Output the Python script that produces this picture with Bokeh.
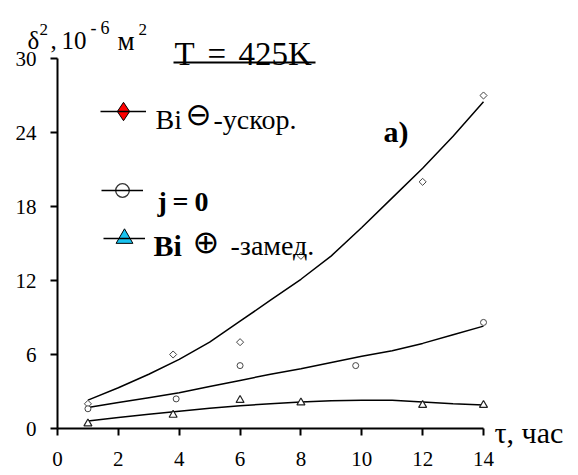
import numpy as np
from bokeh.plotting import figure
from bokeh.models import (Range1d, FixedTicker, Label, Legend, LegendItem,
                          BoxAnnotation)
from bokeh.embed import file_html
from bokeh.resources import INLINE

# ---------------- data ----------------
t_bi_minus = [1, 3.8, 6, 8, 12, 14]
d2_bi_minus = [2.0, 6.0, 7.0, 14.0, 20.0, 27.0]

t_j0 = [1, 3.9, 6, 9.8, 14]
d2_j0 = [1.6, 2.4, 5.1, 5.1, 8.6]

t_bi_plus = [1, 3.8, 6, 8, 12, 14]
d2_bi_plus = [0.4, 1.1, 2.3, 2.1, 1.9, 1.9]

t_trend = [1, 2, 3, 4, 5, 6, 7, 8, 9, 10, 11, 12, 13, 14]
trend_bi_minus = [2.3, 3.3, 4.4, 5.6, 7.0, 8.7, 10.4, 12.1, 14.0, 16.3, 18.7, 21.1, 23.7, 26.5]
trend_j0 = [1.7, 2.1, 2.5, 2.9, 3.4, 3.9, 4.4, 4.85, 5.35, 5.85, 6.3, 6.9, 7.6, 8.3]
trend_bi_plus = [0.6, 0.9, 1.15, 1.4, 1.65, 1.85, 2.0, 2.15, 2.25, 2.3, 2.3, 2.15, 2.0, 1.9]

x_ticks = [0, 2, 4, 6, 8, 10, 12, 14]
y_ticks = [0, 6, 12, 18, 24, 30]

# ---------------- geometry ----------------
W, H = 570, 470          # canvas = frame
X0, Y0 = 57, 428         # canvas px of the data origin
KX = 426 / 14.0          # px per hour
KY = 370 / 30.0          # px per 1e-6 m^2

p = figure(frame_width=W, frame_height=H,
           min_border_left=0, min_border_right=0,
           min_border_top=0, min_border_bottom=0,
           x_range=Range1d(-X0 / KX, (W - X0) / KX),
           y_range=Range1d(-(H - Y0) / KY, Y0 / KY),
           output_backend="svg", toolbar_location=None)
p.outline_line_color = None
p.xgrid.visible = False
p.ygrid.visible = False
p.background_fill_color = "white"
p.border_fill_color = "white"
p.extra_y_ranges = {"off": Range1d(1000, 1001)}   # legend-only renderers live here

for ax, ticks, bnd in ((p.xaxis[0], x_ticks, (0, 14)), (p.yaxis[0], y_ticks, (0, 30))):
    ax.fixed_location = 0
    ax.bounds = bnd
    ax.ticker = FixedTicker(ticks=ticks)
    ax.axis_line_width = 2
    ax.axis_line_color = "black"
    ax.major_tick_line_width = 2
    ax.major_tick_line_color = "black"
    ax.major_tick_in = 0
    ax.major_tick_out = 7
    ax.minor_tick_line_color = None
    ax.major_label_text_font = "Liberation Serif"
    ax.major_label_text_font_size = "21px"
    ax.major_label_text_color = "black"
p.xaxis[0].major_label_standoff = 16
p.yaxis[0].major_label_standoff = 14

# trend lines
r_tr_minus = p.line(t_trend, trend_bi_minus, line_color="black", line_width=1.5)
r_tr_j0 = p.line(t_trend, trend_j0, line_color="black", line_width=1.5)
r_tr_plus = p.line(t_trend, trend_bi_plus, line_color="black", line_width=1.5)

# data markers
p.scatter(t_bi_minus, d2_bi_minus, marker="square", angle=np.pi / 4, size=5,
          fill_color="white", line_color="#444444", line_width=1)
p.scatter(t_j0, d2_j0, marker="circle", size=6,
          fill_color="white", line_color="#444444", line_width=1)
p.scatter(t_bi_plus, d2_bi_plus, marker="triangle", size=8,
          fill_color="white", line_color="#222222", line_width=1.2)

# legend-only marker renderers (same data, mapped off-screen)
lg_minus = p.scatter(t_bi_minus, d2_bi_minus, y_range_name="off", marker="diamond",
                     fill_color="#ff0000", line_color="#000000", line_width=1)
lg_j0 = p.scatter(t_j0, d2_j0, y_range_name="off", marker="circle",
                  fill_color="white", line_color="#333333", line_width=1.3)
lg_plus = p.scatter(t_bi_plus, d2_bi_plus, y_range_name="off", marker="triangle",
                    fill_color="#19c3f0", line_color="#000000", line_width=1)


# ---------------- helpers for pixel placement ----------------
def lab(text, px, py, size, bold=False, font="Liberation Serif",
        align="left", baseline="alphabetic"):
    p.add_layout(Label(x=px, y=H - py, x_units="screen", y_units="screen",
                       text=text, text_font=font,
                       text_font_size=f"{size}px",
                       text_font_style="bold" if bold else "normal",
                       text_align=align, text_baseline=baseline,
                       text_color="black"))


def legend_sample(r_marker, r_line, box, gx, gy, gw=42):
    leg = Legend(items=[LegendItem(label=" ", renderers=[r_marker, r_line])],
                 location=(gx, H - (gy + box / 2)),
                 padding=0, margin=0, spacing=0,
                 glyph_width=gw, glyph_height=box,
                 label_height=box, label_width=0, label_standoff=0,
                 border_line_alpha=0, background_fill_alpha=0,
                 label_text_font_size="2px")
    p.add_layout(leg)


legend_sample(lg_minus, r_tr_minus, 46, 100, 111, gw=46)
legend_sample(lg_j0, r_tr_j0, 34, 101, 190)
legend_sample(lg_plus, r_tr_plus, 48, 103, 238)

# legend texts
lab("Bi", 155, 119, 28)
lab("\u2296", 185, 113, 31, font="DejaVu Sans", baseline="middle")
lab("-ускор.", 213, 119, 28)

lab("j", 157, 201, 28, bold=True)
lab("=", 172, 201, 28, bold=True)
lab("0", 194, 201, 28, bold=True)

lab("Bi", 153, 245, 30, bold=True)
lab("\u2295", 192, 241, 32, font="DejaVu Sans", baseline="middle")
lab("-замед.", 230, 245, 28)

# panel mark
lab("a)", 383, 131, 30, bold=True)

# title with underline
lab("T", 174, 53, 33)
lab("=", 207, 53, 33)
lab("425K", 238, 53, 33)
p.add_layout(BoxAnnotation(left=173, right=315, bottom=H - 63, top=H - 61,
                           left_units="screen", right_units="screen",
                           top_units="screen", bottom_units="screen",
                           fill_color="black", fill_alpha=1, line_alpha=0))

# y axis title  δ²,10⁻⁶ м²
lab("δ", 27, 40, 25)
lab("2", 39, 29, 17)
lab(",", 50, 40, 25)
lab("10", 61, 40, 25)
lab("-", 90, 27, 18)
lab("6", 100, 27, 18)
lab("м", 117, 40, 27)
lab("2", 138, 29, 17)

# x axis title
lab("τ, час", 494, 432, 30)

open("out.html", "w").write(file_html(p, INLINE))
